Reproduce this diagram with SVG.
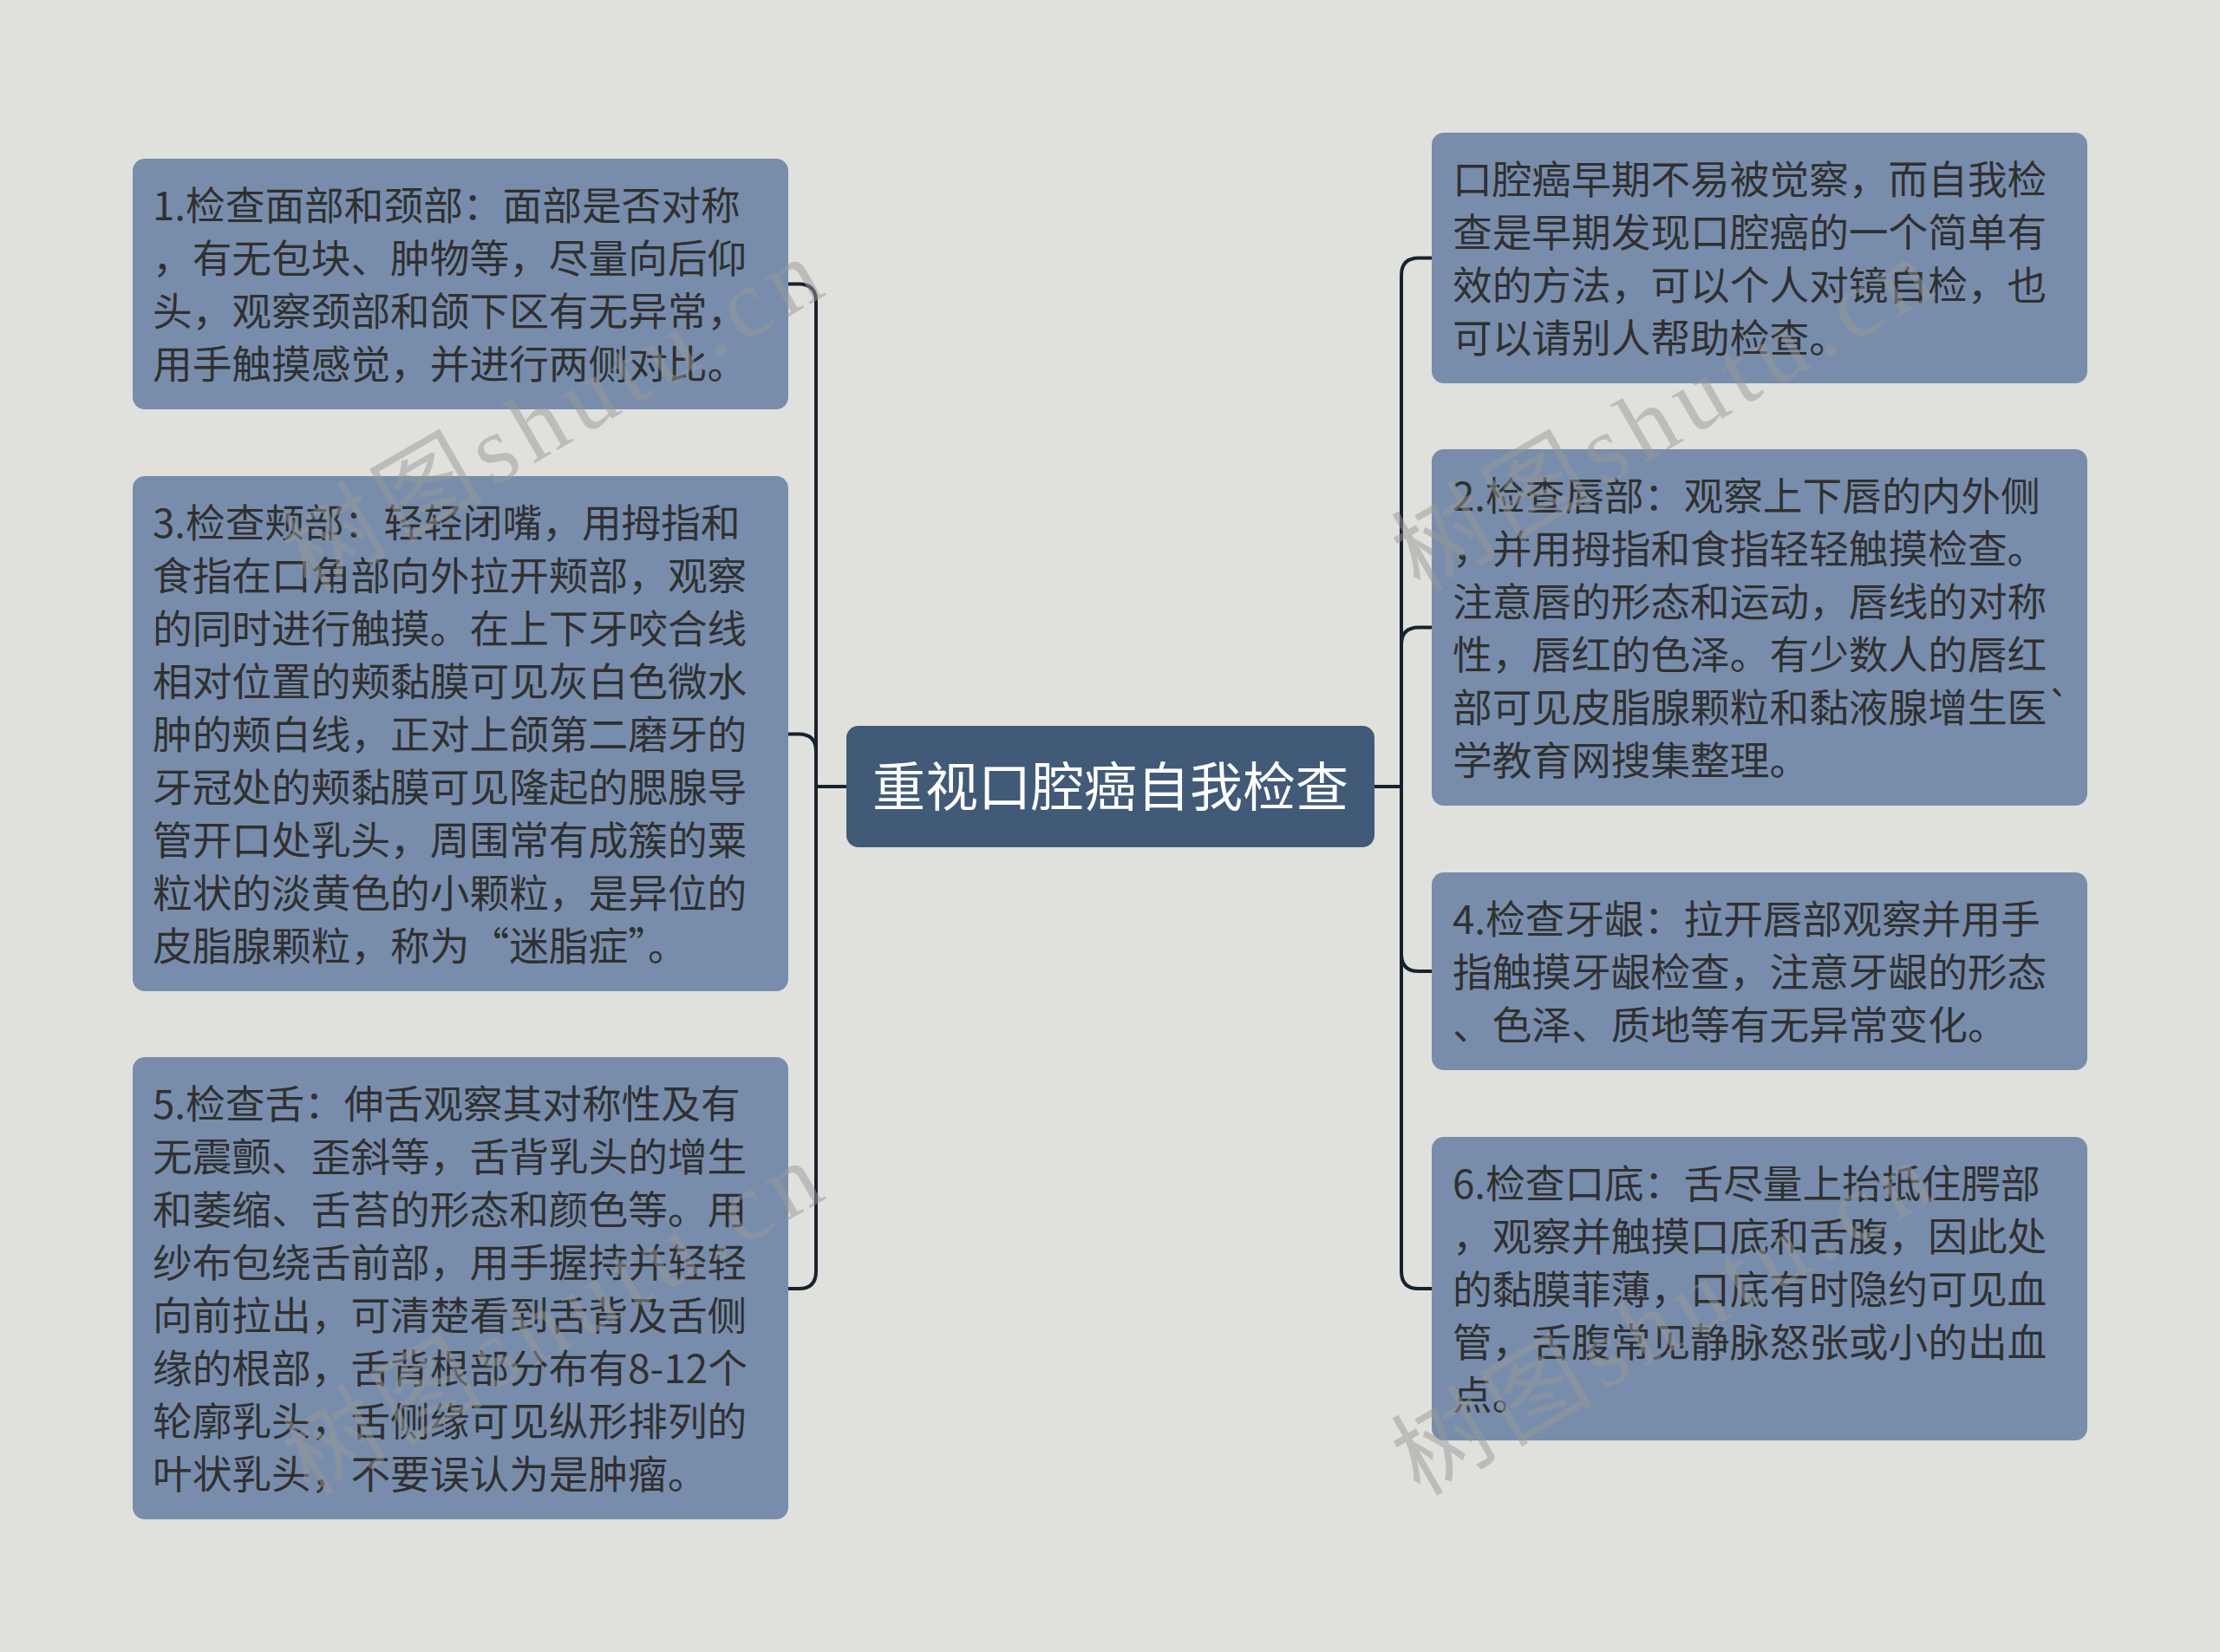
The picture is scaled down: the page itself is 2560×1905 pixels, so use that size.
<svg xmlns="http://www.w3.org/2000/svg" width="2560" height="1905" viewBox="0 0 2560 1905">
<style>
.node rect{fill:#788DAC;}
.node text{font-family:"Noto Sans CJK SC","Noto Sans",sans-serif;font-size:45.7px;fill:#303030;}
.root rect{fill:#415A78;}
.root text{font-family:"Noto Sans CJK SC","Noto Sans",sans-serif;font-size:61px;fill:#FFFFFF;}
.links path{fill:none;stroke:#18222E;stroke-width:4;stroke-linejoin:round;}
.wm{font-family:"Liberation Serif","Noto Sans CJK SC",serif;font-size:112px;fill:#999999;opacity:0.5;}
</style>
<rect x="0" y="0" width="2560" height="1905" fill="#E0E1DC"/>
<g class="links" id="connectors">
<path d="M976 907 H941 V347.5 Q941 327.5 921 327.5 H909"/>
<path d="M976 907 H941 V866.5 Q941 846.5 921 846.5 H909"/>
<path d="M976 907 H941 V1466 Q941 1486 921 1486 H909"/>
<path d="M1585 907 H1616 V317.5 Q1616 297.5 1636 297.5 H1651"/>
<path d="M1585 907 H1616 V743.5 Q1616 723.5 1636 723.5 H1651"/>
<path d="M1585 907 H1616 V1100 Q1616 1120 1636 1120 H1651"/>
<path d="M1585 907 H1616 V1466 Q1616 1486 1636 1486 H1651"/>
</g>
<g class="root" id="root">
<rect x="976" y="837" width="609" height="140" rx="14"/>
<text x="1280.5" y="930" text-anchor="middle">重视口腔癌自我检查</text>
</g>
<g class="node" id="node1">
<rect x="153" y="183" width="756" height="289" rx="14"/>
<text x="176" y="254">1.检查面部和颈部：面部是否对称</text>
<text x="176" y="315">，有无包块、肿物等，尽量向后仰</text>
<text x="176" y="376">头，观察颈部和颌下区有无异常，</text>
<text x="176" y="437">用手触摸感觉，并进行两侧对比。</text>
</g>
<g class="node" id="node3">
<rect x="153" y="549" width="756" height="594" rx="14"/>
<text x="176" y="620">3.检查颊部：轻轻闭嘴，用拇指和</text>
<text x="176" y="681">食指在口角部向外拉开颊部，观察</text>
<text x="176" y="742">的同时进行触摸。在上下牙咬合线</text>
<text x="176" y="803">相对位置的颊黏膜可见灰白色微水</text>
<text x="176" y="864">肿的颊白线，正对上颌第二磨牙的</text>
<text x="176" y="925">牙冠处的颊黏膜可见隆起的腮腺导</text>
<text x="176" y="986">管开口处乳头，周围常有成簇的粟</text>
<text x="176" y="1047">粒状的淡黄色的小颗粒，是异位的</text>
<text x="176" y="1108">皮脂腺颗粒，称为“迷脂症”。</text>
</g>
<g class="node" id="node5">
<rect x="153" y="1219" width="756" height="533" rx="14"/>
<text x="176" y="1290">5.检查舌：伸舌观察其对称性及有</text>
<text x="176" y="1351">无震颤、歪斜等，舌背乳头的增生</text>
<text x="176" y="1412">和萎缩、舌苔的形态和颜色等。用</text>
<text x="176" y="1473">纱布包绕舌前部，用手握持并轻轻</text>
<text x="176" y="1534">向前拉出，可清楚看到舌背及舌侧</text>
<text x="176" y="1595">缘的根部，舌背根部分布有8-12个</text>
<text x="176" y="1656">轮廓乳头，舌侧缘可见纵形排列的</text>
<text x="176" y="1717">叶状乳头，不要误认为是肿瘤。</text>
</g>
<g class="node" id="node0">
<rect x="1651" y="153" width="756" height="289" rx="14"/>
<text x="1675" y="224">口腔癌早期不易被觉察，而自我检</text>
<text x="1675" y="285">查是早期发现口腔癌的一个简单有</text>
<text x="1675" y="346">效的方法，可以个人对镜自检，也</text>
<text x="1675" y="407">可以请别人帮助检查。</text>
</g>
<g class="node" id="node2">
<rect x="1651" y="518" width="756" height="411" rx="14"/>
<text x="1675" y="589">2.检查唇部：观察上下唇的内外侧</text>
<text x="1675" y="650">，并用拇指和食指轻轻触摸检查。</text>
<text x="1675" y="711">注意唇的形态和运动，唇线的对称</text>
<text x="1675" y="772">性，唇红的色泽。有少数人的唇红</text>
<text x="1675" y="833">部可见皮脂腺颗粒和黏液腺增生医`</text>
<text x="1675" y="894">学教育网搜集整理。</text>
</g>
<g class="node" id="node4">
<rect x="1651" y="1006" width="756" height="228" rx="14"/>
<text x="1675" y="1077">4.检查牙龈：拉开唇部观察并用手</text>
<text x="1675" y="1138">指触摸牙龈检查，注意牙龈的形态</text>
<text x="1675" y="1199">、色泽、质地等有无异常变化。</text>
</g>
<g class="node" id="node6">
<rect x="1651" y="1311" width="756" height="350" rx="14"/>
<text x="1675" y="1382">6.检查口底：舌尽量上抬抵住腭部</text>
<text x="1675" y="1443">，观察并触摸口底和舌腹，因此处</text>
<text x="1675" y="1504">的黏膜菲薄，口底有时隐约可见血</text>
<text x="1675" y="1565">管，舌腹常见静脉怒张或小的出血</text>
<text x="1675" y="1626">点。</text>
</g>
<g id="watermarks">
<text class="wm" x="357" y="684" transform="rotate(-30 357 684)" textLength="690" lengthAdjust="spacing">树图shutu.cn</text>
<text class="wm" x="1637" y="684" transform="rotate(-30 1637 684)" textLength="690" lengthAdjust="spacing">树图shutu.cn</text>
<text class="wm" x="357" y="1726" transform="rotate(-30 357 1726)" textLength="690" lengthAdjust="spacing">树图shutu.cn</text>
<text class="wm" x="1637" y="1726" transform="rotate(-30 1637 1726)" textLength="690" lengthAdjust="spacing">树图shutu.cn</text>
</g>
</svg>
